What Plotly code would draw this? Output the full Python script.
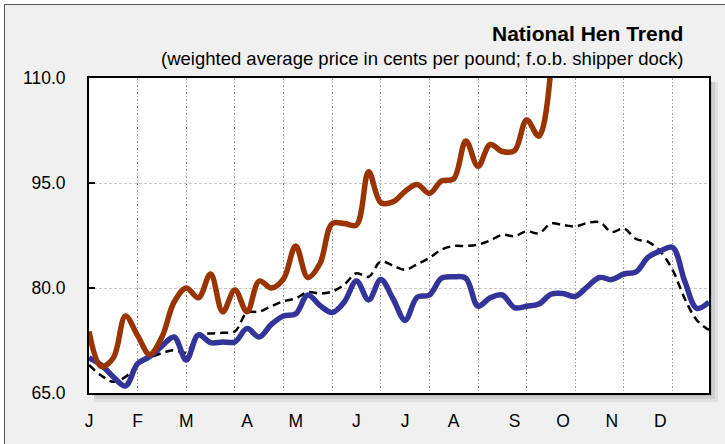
import plotly.graph_objects as go

weeks = list(range(52))

current_year = [73.8, 68.8, 70.0, 76.0, 73.2, 70.5, 73.0, 78.0, 80.0, 78.6,
                82.0, 76.6, 79.7, 76.6, 81.0, 80.0, 81.3, 86.0, 81.5, 83.5,
                89.2, 89.2, 89.0, 96.6, 92.2, 92.3, 93.8, 94.8, 93.5, 95.3,
                95.6, 101.0, 97.4, 100.5, 99.5, 99.6, 104.0, 101.7, 111.5]

last_year = [70.0, 69.0, 67.3, 66.0, 69.2, 70.2, 71.7, 73.0, 69.7, 73.3,
             72.2, 72.3, 72.3, 74.2, 73.0, 74.8, 76.0, 76.3, 79.0, 77.5,
             76.5, 78.0, 81.0, 78.3, 81.2, 78.5, 75.4, 78.7, 79.0, 81.4,
             81.6, 81.4, 77.4, 78.6, 79.0, 77.2, 77.4, 77.7, 79.1, 79.2,
             78.8, 80.2, 81.5, 81.2, 82.0, 82.3, 84.4, 85.3, 85.8, 81.0,
             77.1, 78.0]

five_year_avg = [69.0, 67.5, 66.6, 67.3, 69.0, 70.0, 70.7, 71.1, 70.8, 73.3,
                 73.5, 73.6, 73.8, 76.5, 76.6, 77.4, 78.1, 78.5, 79.4, 79.2,
                 79.5, 80.5, 82.1, 81.6, 83.8, 83.2, 82.6, 83.4, 84.3, 85.5,
                 86.0, 86.0, 86.2, 86.8, 87.6, 87.4, 88.1, 87.8, 89.2, 89.0,
                 88.8, 89.3, 89.4, 88.0, 88.5, 87.0, 86.6, 85.2, 82.6, 78.5,
                 75.4, 74.0]

month_labels = ["J", "F", "M", "A", "M", "J", "J", "A", "S", "O", "N", "D"]
month_weeks = [0, 4, 8, 13, 17, 22, 26, 30, 35, 39, 43, 47]
grid_weeks = [4, 8, 12, 16, 20, 24, 28, 32, 36, 40, 44, 48]
y_ticks = [65, 80, 95, 110]

FONT = "Liberation Sans, Arial, sans-serif"

fig = go.Figure()
fig.add_trace(go.Scatter(x=weeks, y=five_year_avg, mode="lines",
                         line=dict(color="black", width=2.5, dash="8px,5px",
                                   shape="spline", smoothing=1),
                         showlegend=False))
fig.add_trace(go.Scatter(x=weeks, y=last_year, mode="lines",
                         line=dict(color="#333399", width=5.5,
                                   shape="spline", smoothing=1),
                         showlegend=False))
fig.add_trace(go.Scatter(x=weeks[:len(current_year)], y=current_year, mode="lines",
                         line=dict(color="#993300", width=5.5,
                                   shape="spline", smoothing=1),
                         showlegend=False))

L, R, T, B = 89, 16, 78, 51
W, H = 725, 444
pw, ph = W - L - R, H - T - B

def px(x):
    return (x - L) / pw

def py(y):
    return 1 - (y - T) / ph

shapes = []
# outer white margin + gray border
shapes.append(dict(type="rect", xref="paper", yref="paper",
                   x0=px(0), x1=px(W + 10), y0=py(H + 10), y1=py(0),
                   line=dict(color="white", width=8), fillcolor="rgba(0,0,0,0)",
                   layer="below"))
shapes.append(dict(type="rect", xref="paper", yref="paper",
                   x0=px(4.5), x1=px(W + 10), y0=py(H + 10), y1=py(4.5),
                   line=dict(color="#555555", width=1), fillcolor="rgba(0,0,0,0)",
                   layer="below"))
# drop shadow
for d, a in [(9, 0.06), (6, 0.08), (3, 0.10)]:
    shapes.append(dict(type="rect", xref="paper", yref="paper",
                       x0=px(L + pw), x1=px(L + pw + d), y0=py(T + ph + d), y1=py(T + 4),
                       line=dict(width=0), fillcolor=f"rgba(0,0,0,{a})", layer="below"))
    shapes.append(dict(type="rect", xref="paper", yref="paper",
                       x0=px(L + 5), x1=px(L + pw), y0=py(T + ph + d), y1=py(T + ph),
                       line=dict(width=0), fillcolor=f"rgba(0,0,0,{a})", layer="below"))

fig.update_layout(
    width=W, height=H,
    margin=dict(l=L, r=R, t=T, b=B, autoexpand=False),
    paper_bgcolor="#f0f0f0",
    plot_bgcolor="white",
    font=dict(family=FONT, color="black", size=17),
    shapes=shapes,
    annotations=[
        dict(text="<b>National Hen Trend</b>", xref="paper", yref="paper",
             x=px(685), y=py(33), xanchor="right", yanchor="middle",
             showarrow=False, font=dict(size=21, family=FONT)),
        dict(text="(weighted average price in cents per pound; f.o.b. shipper dock)",
             xref="paper", yref="paper", x=px(685), y=py(58),
             xanchor="right", yanchor="middle", showarrow=False,
             font=dict(size=18.5, family=FONT)),
    ],
)

fig.update_xaxes(
    range=[0, 51], tickvals=month_weeks, ticktext=month_labels,
    showgrid=False, ticks="", zeroline=False, automargin=False,
    showline=True, linecolor="black", linewidth=2, mirror=True,
    ticklabelstandoff=11,
    tickfont=dict(size=17.5),
    minor=dict(tickvals=grid_weeks, showgrid=True, gridcolor="#999999",
               griddash="1.5px,2px", gridwidth=1.3, ticks=""),
)
fig.update_yaxes(
    range=[65, 110], tickvals=y_ticks, ticktext=[f"{v:.1f}" for v in y_ticks],
    showgrid=True, gridcolor="#c8c8c8", griddash="3px,2px", gridwidth=1,
    zeroline=False, ticks="inside", ticklen=6, tickcolor="black", tickwidth=1.5,
    automargin=False,
    showline=True, linecolor="black", linewidth=2, mirror=True,
    ticklabelstandoff=18, tickfont=dict(size=17.5),
)

fig.write_html("out.html", config={"displayModeBar": False},
               post_script="document.body.style.margin='0';")
